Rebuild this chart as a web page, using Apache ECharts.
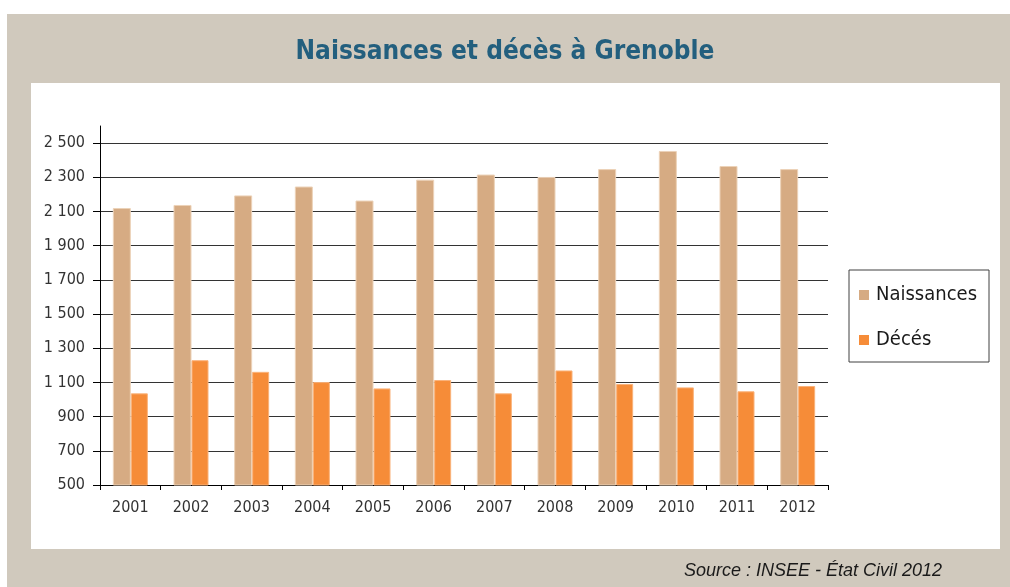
<!DOCTYPE html>
<html>
<head>
<meta charset="utf-8">
<title>Naissances et décès à Grenoble</title>
<script src="https://cdn.jsdelivr.net/npm/echarts@6/dist/echarts.min.js"></script>
<style>
  html, body { margin: 0; padding: 0; background: #ffffff; }
  #chart { width: 1010px; height: 587px; }
</style>
</head>
<body>
<div id="chart"></div>
<script>
// data
var years = ['2001', '2002', '2003', '2004', '2005', '2006', '2007', '2008', '2009', '2010', '2011', '2012'];
var naissances = [2120, 2138, 2194, 2246, 2164, 2286, 2316, 2302, 2348, 2454, 2366, 2348];
var deces = [1036, 1230, 1162, 1102, 1065, 1114, 1036, 1170, 1091, 1071, 1048, 1079];

var font = '"DejaVu Sans Condensed", "DejaVu Sans", sans-serif';

function frNumber(v) {
  return String(v).replace(/\B(?=(\d{3})+(?!\d))/g, ' ');
}

var chart = echarts.init(document.getElementById('chart'));
var option = {
  animation: false,
  backgroundColor: '#ffffff',
  graphic: [
    {
      type: 'rect', z: -10, silent: true,
      shape: { x: 7, y: 14, width: 1003, height: 573 },
      style: { fill: '#d0c9bd' }
    },
    {
      type: 'rect', z: -9, silent: true,
      shape: { x: 31, y: 83, width: 969, height: 466 },
      style: { fill: '#ffffff' }
    },
    {
      type: 'text', left: 684, top: 562,
      style: {
        text: 'Source : INSEE - État Civil 2012',
        font: 'italic 18px "Liberation Sans", sans-serif',
        fill: '#1a1a1a'
      }
    }
  ],
  title: {
    text: 'Naissances et décès à Grenoble',
    left: 'center',
    top: 34,
    textStyle: {
      fontFamily: font,
      fontWeight: 'bold',
      fontSize: 26,
      color: '#235f7e'
    }
  },
  legend: {
    orient: 'vertical',
    left: 849,
    top: 270,
    padding: [15, 12, 12, 10],
    itemGap: 25,
    itemWidth: 10,
    itemHeight: 10,
    icon: 'rect',
    itemStyle: { borderWidth: 0 },
    backgroundColor: '#ffffff',
    borderColor: '#404040',
    borderWidth: 1,
    borderRadius: 0,
    textStyle: { fontFamily: font, fontSize: 20, color: '#1a1a1a', padding: [0, 0, 0, 2] },
    data: ['Naissances', 'Décés']
  },
  grid: { left: 100, right: 182, top: 126, bottom: 102 },
  xAxis: {
    type: 'category',
    data: years,
    axisLine: { lineStyle: { color: '#000000', width: 1 } },
    axisTick: { show: true, length: 5, lineStyle: { color: '#000000' } },
    axisLabel: { fontFamily: font, fontSize: 16, color: '#333333', margin: 15 }
  },
  yAxis: {
    type: 'value',
    min: 500,
    max: 2600,
    interval: 200,
    axisLine: { show: true, lineStyle: { color: '#000000', width: 1 } },
    axisTick: { show: true, length: 7, lineStyle: { color: '#000000' } },
    axisLabel: {
      fontFamily: font, fontSize: 16, color: '#333333', margin: 15,
      showMaxLabel: false,
      formatter: function (v) { return v === 2600 ? '' : frNumber(v); }
    },
    splitLine: { show: true, showMaxLine: false, lineStyle: { color: '#333333', width: 1 } }
  },
  series: [
    {
      name: 'Naissances',
      type: 'bar',
      data: naissances,
      barWidth: 18,
      barGap: '0%',
      itemStyle: { color: '#d6ab83', borderColor: '#ecd2b8', borderWidth: 1 }
    },
    {
      name: 'Décés',
      type: 'bar',
      data: deces,
      barWidth: 17,
      itemStyle: { color: '#f68c38', borderColor: '#fab27a', borderWidth: 1 }
    }
  ]
};
option && chart.setOption(option);
</script>
</body>
</html>
